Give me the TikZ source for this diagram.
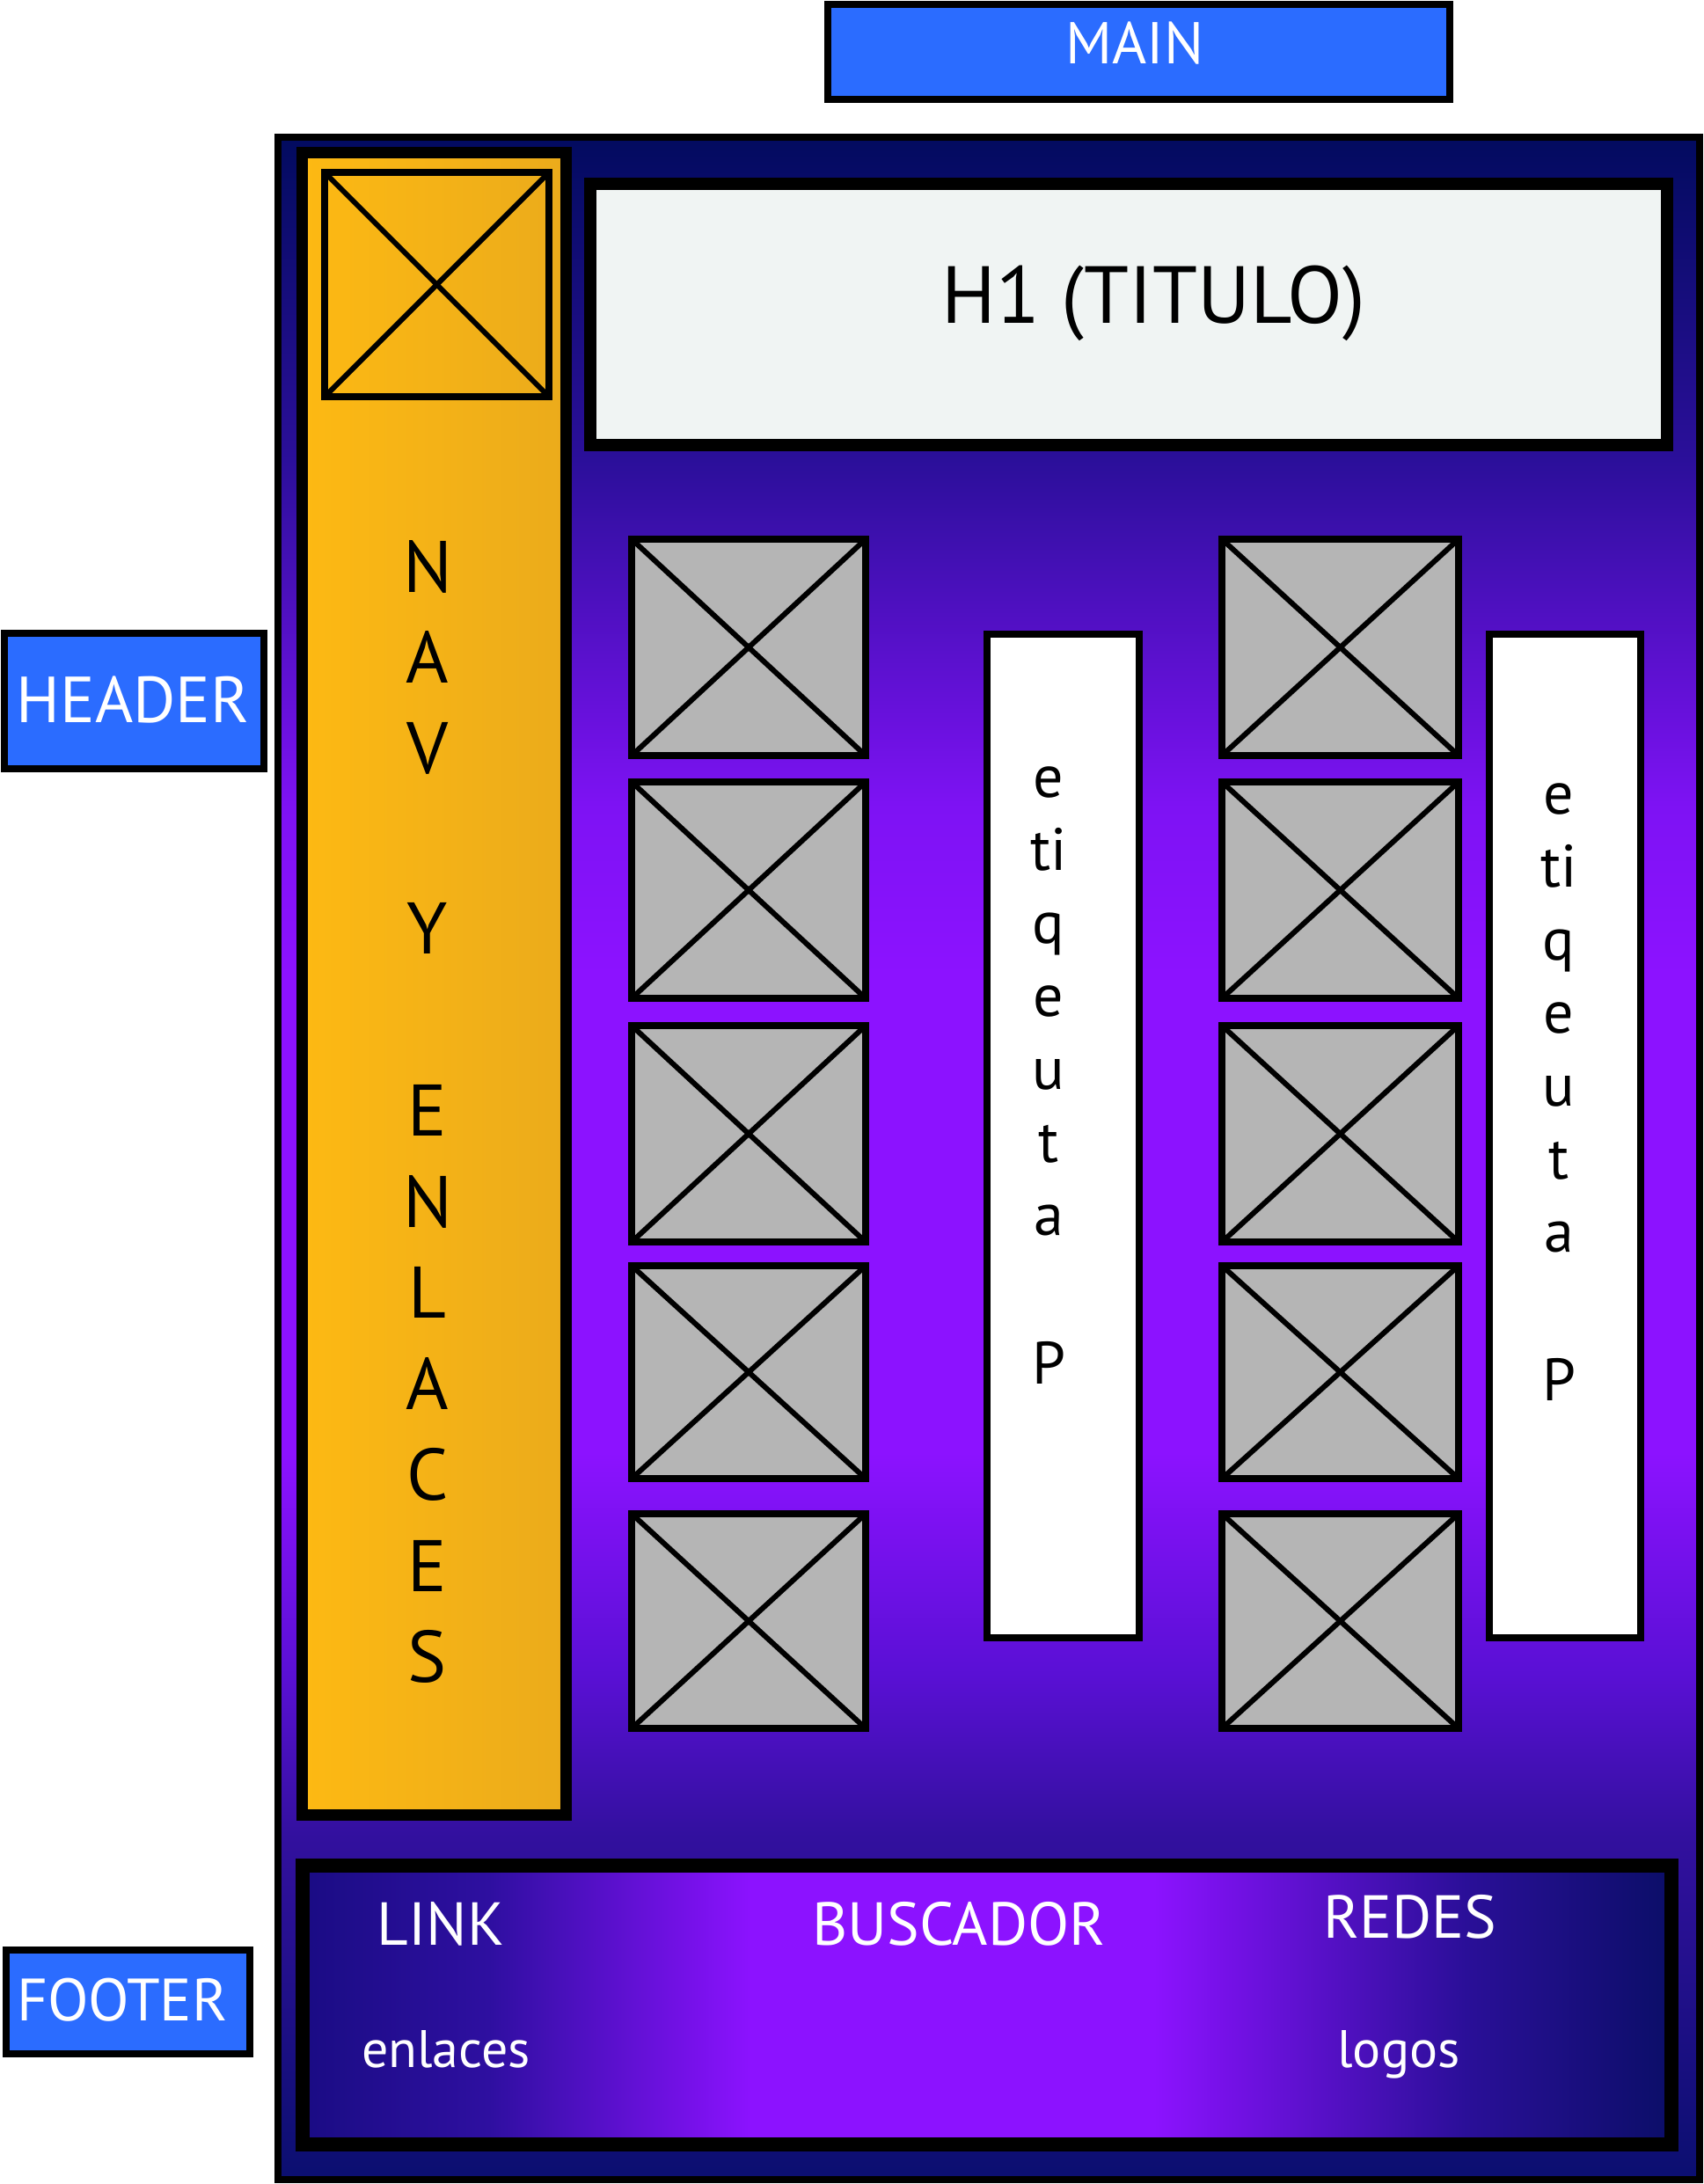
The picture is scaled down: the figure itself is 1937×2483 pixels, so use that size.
\documentclass[tikz,border=0pt]{standalone}
\usepackage{fontspec}
\setmainfont{PT Sans}
\definecolor{lblue}{HTML}{2B6CFF}
\definecolor{hone}{HTML}{F0F4F3}
\definecolor{imgray}{HTML}{B5B5B5}
\definecolor{navl}{HTML}{FDB913}
\definecolor{navr}{HTML}{EBAB1B}
\definecolor{oA}{HTML}{020B5F}
\definecolor{oB}{HTML}{2B0F9A}
\definecolor{oC}{HTML}{7E12F4}
\definecolor{oD}{HTML}{8C12FF}
\definecolor{oE}{HTML}{5A10D5}
\definecolor{oF}{HTML}{32109E}
\definecolor{oG}{HTML}{0B0F70}
\definecolor{fA}{HTML}{1A0C84}
\definecolor{fB}{HTML}{2E0FA0}
\definecolor{fC}{HTML}{8C12FF}
\definecolor{fD}{HTML}{2A0F98}
\definecolor{fE}{HTML}{0B0E68}
\pgfdeclareverticalshading{outerg}{100bp}{color(0bp)=(oG); color(25bp)=(oG); color(33.4bp)=(oF); color(37.4bp)=(oE); color(42.8bp)=(oD); color(54.5bp)=(oD); color(58.6bp)=(oC); color(67.1bp)=(oB); color(75bp)=(oA); color(100bp)=(oA)}
\pgfdeclarehorizontalshading{footg}{100bp}{color(0bp)=(fA); color(25bp)=(fA); color(31.8bp)=(fB); color(41.4bp)=(fC); color(56.1bp)=(fC); color(67.5bp)=(fD); color(75bp)=(fE); color(100bp)=(fE)}
\tikzset{
  tagbox/.style={draw=black, line width=8pt, fill=lblue},
  tagtext/.style={font=\fontsize{74}{76}\selectfont, text=white, anchor=base, inner sep=0pt},
  maintext/.style={font=\fontsize{67}{70}\selectfont, text=white, anchor=base, inner sep=0pt},
  imgbox/.style={draw=black, line width=8pt, fill=imgray},
  xline/.style={draw=black, line width=6pt},
  etibox/.style={draw=black, line width=8pt, fill=white},
  navletter/.style={font=\fontsize{83}{85}\selectfont, text=black, anchor=base, inner sep=0pt},
  etiletter/.style={font=\fontsize{68}{70}\selectfont, text=black, anchor=base, inner sep=0pt},
  foottitle/.style={font=\fontsize{69}{72}\selectfont, text=white, anchor=base, inner sep=0pt},
  footsub/.style={font=\fontsize{60}{62}\selectfont, text=white, anchor=base, inner sep=0pt},
}
\newcommand{\imgx}[4]{%
  \draw[imgbox] (#1,#2) rectangle (#3,#4);
  \draw[xline] (#1,#2) -- (#3,#4);
  \draw[xline] (#1,#4) -- (#3,#2);
}
\begin{document}
\begin{tikzpicture}[x=1pt,y=-1pt]
\useasboundingbox (0,0) rectangle (1937,2483);
\fill[white] (0,0) rectangle (1937,2483);
% MAIN tag
\draw[tagbox] (941,5) rectangle (1648,113);
\node[maintext] (maint) at (1290,73) {MAIN};
% HEADER tag
\draw[tagbox] (5,720) rectangle (300,874);
\node[tagtext] (headt) at (151,821) {HEADER};
% FOOTER tag
\draw[tagbox] (7,2217) rectangle (284,2335);
\node[tagtext, font=\fontsize{68}{70}\selectfont] (foott) at (139,2297) {FOOTER};
% outer main area
\path[shading=outerg, draw=black, line width=8pt] (316,156) rectangle (1932,2478);
% nav
\path[left color=navl, right color=navr, draw=black, line width=13pt] (343.5,173.5) rectangle (643.5,2063.5);
\draw[xline, line width=8pt] (369,196) rectangle (624,451);
\draw[xline] (369,196) -- (624,451);
\draw[xline] (369,451) -- (624,196);
% H1
\draw[draw=black, line width=14pt, fill=hone] (671,209) rectangle (1895,506);
\node[font=\fontsize{92}{96}\selectfont, anchor=base, inner sep=0pt] (h1t) at (1311,367) {H1 (TITULO)};
% nav letters
\node[navletter] (n1) at (486,673) {N};
\node[navletter] (n2) at (486,776) {A};
\node[navletter] (n3) at (486,879) {V};
\node[navletter] (n4) at (486,1084) {Y};
\node[navletter] (n5) at (486,1291) {E};
\node[navletter] (n6) at (486,1395) {N};
\node[navletter] (n7) at (486,1498) {L};
\node[navletter] (n8) at (486,1602) {A};
\node[navletter] (n9) at (486,1705) {C};
\node[navletter] (n10) at (486,1809) {E};
\node[navletter] (n11) at (486,1912) {S};
% image columns
\imgx{718}{613}{984}{859}
\imgx{718}{889}{984}{1135}
\imgx{718}{1166}{984}{1412}
\imgx{718}{1439}{984}{1681}
\imgx{718}{1721}{984}{1965}
\imgx{1389}{613}{1658}{859}
\imgx{1389}{889}{1658}{1135}
\imgx{1389}{1166}{1658}{1412}
\imgx{1389}{1439}{1658}{1681}
\imgx{1389}{1721}{1658}{1965}
% etiqueta boxes
\draw[etibox] (1122,721) rectangle (1295,1862);
\draw[etibox] (1693,721) rectangle (1865,1862);
\node[etiletter] (a1) at (1192,906) {e};
\node[etiletter] (a2) at (1192,989) {ti};
\node[etiletter] (a3) at (1192,1072) {q};
\node[etiletter] (a4) at (1192,1155) {e};
\node[etiletter] (a5) at (1192,1238) {u};
\node[etiletter] (a6) at (1192,1321) {t};
\node[etiletter] (a7) at (1192,1404) {a};
\node[etiletter] (a8) at (1192,1573) {P};
\node[etiletter] (b1) at (1772,925) {e};
\node[etiletter] (b2) at (1772,1008) {ti};
\node[etiletter] (b3) at (1772,1091) {q};
\node[etiletter] (b4) at (1772,1174) {e};
\node[etiletter] (b5) at (1772,1257) {u};
\node[etiletter] (b6) at (1772,1340) {t};
\node[etiletter] (b7) at (1772,1423) {a};
\node[etiletter] (b8) at (1772,1592) {P};
% footer
\path[shading=footg, draw=black, line width=16pt] (344,2121) rectangle (1900,2438);
\node[foottitle] (link) at (501,2211) {LINK};
\node[foottitle] (busc) at (1090,2211) {BUSCADOR};
\node[foottitle] (redes) at (1603,2203) {REDES};
\node[footsub] (enl) at (507,2350) {enlaces};
\node[footsub] (logos) at (1590,2350) {logos};
\end{tikzpicture}
\end{document}
